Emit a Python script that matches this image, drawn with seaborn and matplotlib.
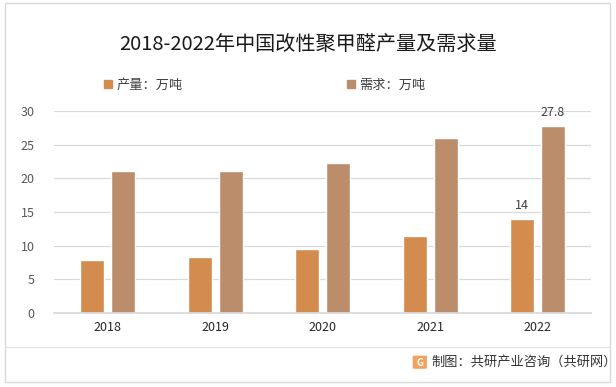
import matplotlib
matplotlib.use("Agg")
import matplotlib.pyplot as plt
import seaborn as sns
import pandas as pd
from matplotlib.patches import Rectangle, FancyBboxPatch
from matplotlib.lines import Line2D

years = ["2018", "2019", "2020", "2021", "2022"]
production = [7.9, 8.3, 9.5, 11.4, 14.0]
demand = [21.1, 21.1, 22.3, 26.0, 27.8]
series_names = ["产量：万吨", "需求：万吨"]
colors = ["#D48B4E", "#BB8D6B"]

sns.set_theme(style="white")
plt.rcParams['font.family'] = ['Noto Sans CJK SC', 'DejaVu Sans']

df = pd.DataFrame({
    "year": years * 2,
    "value": production + demand,
    "series": [series_names[0]] * len(years) + [series_names[1]] * len(years),
})

fig = plt.figure(figsize=(6.16, 3.87), dpi=100)
ax = fig.add_axes([0.0877, 0.1912, 0.872, 0.522])

sns.barplot(data=df, x="year", y="value", hue="series", palette=colors,
            width=0.577, gap=0.226, ax=ax, legend=False, saturation=1)

ax.set_ylim(0, 30)
ax.set_yticks([0, 5, 10, 15, 20, 25, 30])
ax.yaxis.grid(True, color="#D9D9D9", linewidth=0.9)
ax.set_axisbelow(True)
for s in ["left", "right", "top"]:
    ax.spines[s].set_visible(False)
ax.spines["bottom"].set_color("#D9D9D9")
ax.set_xlabel("")
ax.set_ylabel("")
ax.tick_params(axis="y", length=0, labelsize=9, labelcolor="#595959", pad=14)
ax.tick_params(axis="x", length=0, labelsize=9, labelcolor="#262626", pad=6)
ax.set_xlim(-0.5, len(years) - 0.5)

# data labels on last year
last = len(years) - 1
for ci, cont in enumerate(ax.containers):
    bar = cont.patches[last]
    val = [production, demand][ci][last]
    ax.text(bar.get_x() + bar.get_width() / 2, bar.get_height() + 1.0, f"{val:g}",
            ha="center", va="bottom", fontsize=9, color="#404040")

# title
fig.text(0.5, 0.883, "2018-2022年中国改性聚甲醛产量及需求量", ha="center", va="center",
         fontsize=14.5, color="#1a1a1a")

# legend
handles = [Rectangle((0, 0), 1, 1, color=c) for c in colors]
leg = fig.legend(handles, series_names, loc="center", bbox_to_anchor=(0.43, 0.78),
                 ncol=2, frameon=False, fontsize=9.5, handlelength=0.6, handleheight=0.6,
                 columnspacing=12.5, handletextpad=0.3)
for t in leg.get_texts():
    t.set_color("#404040")

# frame border
fig.patches.append(Rectangle((0.008, 0.013), 0.982, 0.978, transform=fig.transFigure,
                             fill=False, edgecolor="#D9D9D9", linewidth=1))
# footer separator
fig.lines.append(Line2D([0.008, 0.99], [1 - 347 / 387, 1 - 347 / 387], transform=fig.transFigure,
                        color="#E3E3E3", linewidth=0.8))
# logo
fig.patches.append(FancyBboxPatch((0.672, 1 - 368 / 387), 0.019, 0.03,
                                  boxstyle="round,pad=0.002", transform=fig.transFigure,
                                  facecolor="#F2A25E", edgecolor="none"))
fig.text(0.6815, 1 - 363 / 387, "G", fontsize=7, color="white", ha="center", va="center",
         fontweight="bold")
fig.text(0.700, 1 - 362 / 387, "制图：共研产业咨询（共研网）", fontsize=9.5, color="#333333",
         ha="left", va="center")

fig.savefig("out.png", dpi=100)
